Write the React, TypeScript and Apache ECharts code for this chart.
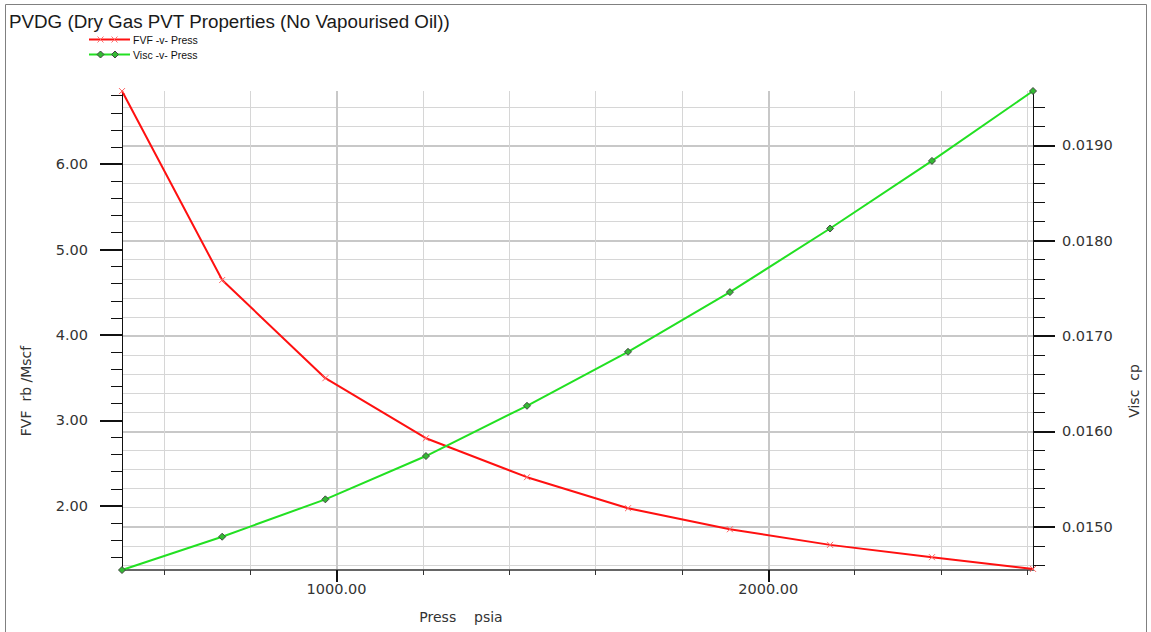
import React, { useEffect, useRef } from "react";
import * as echarts from "echarts";

// PVDG table: pressure (psia), gas FVF (rb/Mscf), gas viscosity (cp)
const pressures = [503, 735, 974, 1207, 1441, 1675, 1911, 2143, 2379, 2613];
const fvf = [6.854, 4.643, 3.494, 2.792, 2.336, 1.973, 1.727, 1.544, 1.4, 1.263];
const visc = [0.014546, 0.014895, 0.015287, 0.015741, 0.016268, 0.016834, 0.01746, 0.018127, 0.018836, 0.019569];

// Axis ranges
const fvfMin = 1.25;
const fvfMax = 6.855;

// Tick positions
const xMajorTicks = [1000, 2000];
const xMinorTicks = [600, 800, 1200, 1400, 1600, 1800, 2200, 2400, 2600];
const fvfMajorTicks = [2, 3, 4, 5, 6];
const fvfMinorTicks = [
  1.4, 1.6, 1.8, 2.2, 2.4, 2.6, 2.8, 3.2, 3.4, 3.6, 3.8, 4.2, 4.4, 4.6, 4.8,
  5.2, 5.4, 5.6, 5.8, 6.2, 6.4, 6.6, 6.8,
];
const viscMajorTicks = [0.015, 0.016, 0.017, 0.018, 0.019];
const viscMinorTicks = [
  0.0146, 0.0148, 0.0152, 0.0154, 0.0156, 0.0158, 0.0162, 0.0164, 0.0166,
  0.0168, 0.0172, 0.0174, 0.0176, 0.0178, 0.0182, 0.0184, 0.0186, 0.0188,
  0.0192, 0.0194,
];

const TITLE = "PVDG (Dry Gas PVT Properties (No Vapourised Oil))";
const FVF_NAME = "FVF -v- Press";
const VISC_NAME = "Visc -v- Press";

const LABEL_FONT = "DejaVu Sans";
const TEXT_FONT = "Liberation Sans";
const RED = "#ff1010";
const GREEN = "#22e022";
const CROSS = "path://M0,0L10,10M10,0L0,10";

export default function App() {
  const ref = useRef<HTMLDivElement>(null);

  useEffect(() => {
    if (!ref.current) return;
    const chart = echarts.init(ref.current, undefined, { renderer: "svg" });

    const xMin = pressures[0];
    const xMax = pressures[pressures.length - 1];
    const vMin = Math.min(...visc);
    const vMax = Math.max(...visc);

    const labelStyle = { color: "#333", fontFamily: LABEL_FONT, fontSize: 14.5 };

    const option: any = {
      animation: false,
      backgroundColor: "#ffffff",
      grid: { left: 122, top: 91, right: 118, bottom: 62, containLabel: false, outerBoundsMode: "none" },
      xAxis: [
        {
          type: "value",
          position: "bottom",
          min: xMin,
          max: xMax,
          axisLine: { show: true, lineStyle: { color: "#666", width: 2 } },
          axisTick: { show: true, customValues: xMinorTicks, length: 5, lineStyle: { color: "#333", width: 1 } },
          axisLabel: { show: false },
          splitLine: { show: true, lineStyle: { color: "#d6d6d6", width: 1 } },
        },
        {
          type: "value",
          position: "bottom",
          min: xMin,
          max: xMax,
          axisLine: { show: false },
          axisTick: { show: true, customValues: xMajorTicks, length: 12, lineStyle: { color: "#111", width: 2 } },
          axisLabel: {
            show: true,
            customValues: xMajorTicks,
            margin: 11,
            formatter: (v: number) => v.toFixed(2),
            ...labelStyle,
          },
          splitLine: { show: true, lineStyle: { color: "#c8c8c8", width: 2 } },
        },
      ],
      yAxis: [
        {
          type: "value",
          position: "left",
          min: fvfMin,
          max: fvfMax,
          axisLine: { show: true, lineStyle: { color: "#111", width: 1 } },
          axisTick: { show: true, customValues: fvfMinorTicks, length: 11, lineStyle: { color: "#111", width: 1 } },
          axisLabel: { show: false },
          splitLine: { show: false },
        },
        {
          type: "value",
          position: "left",
          min: fvfMin,
          max: fvfMax,
          axisLine: { show: false },
          axisTick: { show: true, customValues: fvfMajorTicks, length: 22, lineStyle: { color: "#111", width: 2 } },
          axisLabel: {
            show: true,
            customValues: fvfMajorTicks,
            margin: 34,
            formatter: (v: number) => v.toFixed(2),
            ...labelStyle,
          },
          splitLine: { show: false },
        },
        {
          type: "value",
          position: "right",
          min: vMin,
          max: vMax,
          axisLine: { show: true, lineStyle: { color: "#111", width: 1 } },
          axisTick: { show: true, customValues: viscMinorTicks, length: 12, lineStyle: { color: "#111", width: 1 } },
          axisLabel: { show: false },
          splitLine: { show: true, lineStyle: { color: "#d6d6d6", width: 1 } },
        },
        {
          type: "value",
          position: "right",
          min: vMin,
          max: vMax,
          axisLine: { show: false },
          axisTick: { show: true, customValues: viscMajorTicks, length: 22, lineStyle: { color: "#111", width: 2 } },
          axisLabel: {
            show: true,
            customValues: viscMajorTicks,
            margin: 29,
            formatter: (v: number) => v.toFixed(4),
            ...labelStyle,
          },
          splitLine: { show: true, lineStyle: { color: "#c8c8c8", width: 2 } },
        },
      ],
      series: [
        {
          name: FVF_NAME,
          type: "line",
          xAxisIndex: 0,
          yAxisIndex: 0,
          data: pressures.map((p, i) => [p, fvf[i]]),
          clip: false,
          z: 3,
          lineStyle: { color: RED, width: 2 },
          symbol: CROSS,
          symbolSize: 6,
          itemStyle: { color: "rgba(0,0,0,0)", borderColor: "#ff6060", borderWidth: 1 },
        },
        {
          name: VISC_NAME,
          type: "line",
          xAxisIndex: 0,
          yAxisIndex: 2,
          data: pressures.map((p, i) => [p, visc[i]]),
          clip: false,
          z: 4,
          lineStyle: { color: GREEN, width: 2 },
          symbol: "diamond",
          symbolSize: 7,
          itemStyle: { color: "#33bb33", borderColor: "#444", borderWidth: 1 },
        },
      ],
      graphic: [
        {
          type: "rect",
          shape: { x: 5.5, y: 4.5, width: 1141, height: 660 },
          style: { fill: "none", stroke: "#808080", lineWidth: 1 },
          silent: true,
        },
        {
          type: "text",
          x: 9,
          y: 21,
          style: {
            text: TITLE,
            fill: "#1a1a1a",
            font: `18.8px "${TEXT_FONT}"`,
            textAlign: "left",
            textVerticalAlign: "middle",
            align: "left",
            verticalAlign: "middle",
          },
        },
        // legend: FVF
        { type: "line", shape: { x1: 89, y1: 39.5, x2: 130, y2: 39.5 }, style: { stroke: RED, lineWidth: 2 } },
        { type: "line", shape: { x1: 97.5, y1: 36.5, x2: 103.5, y2: 42.5 }, style: { stroke: "#ff7070", lineWidth: 1 } },
        { type: "line", shape: { x1: 103.5, y1: 36.5, x2: 97.5, y2: 42.5 }, style: { stroke: "#ff7070", lineWidth: 1 } },
        { type: "line", shape: { x1: 111.5, y1: 36.5, x2: 117.5, y2: 42.5 }, style: { stroke: "#ff7070", lineWidth: 1 } },
        { type: "line", shape: { x1: 117.5, y1: 36.5, x2: 111.5, y2: 42.5 }, style: { stroke: "#ff7070", lineWidth: 1 } },
        {
          type: "text",
          x: 133,
          y: 40,
          style: {
            text: FVF_NAME,
            fill: "#111",
            font: `10.5px "${TEXT_FONT}"`,
            textAlign: "left",
            textVerticalAlign: "middle",
            align: "left",
            verticalAlign: "middle",
          },
        },
        // legend: Visc
        { type: "line", shape: { x1: 89, y1: 54.5, x2: 130, y2: 54.5 }, style: { stroke: GREEN, lineWidth: 2 } },
        {
          type: "polygon",
          shape: { points: [[100.5, 51], [104, 54.5], [100.5, 58], [97, 54.5]] },
          style: { fill: "#33bb33", stroke: "#444", lineWidth: 1 },
        },
        {
          type: "polygon",
          shape: { points: [[115, 51], [118.5, 54.5], [115, 58], [111.5, 54.5]] },
          style: { fill: "#33bb33", stroke: "#444", lineWidth: 1 },
        },
        {
          type: "text",
          x: 133,
          y: 55,
          style: {
            text: VISC_NAME,
            fill: "#111",
            font: `10.5px "${TEXT_FONT}"`,
            textAlign: "left",
            textVerticalAlign: "middle",
            align: "left",
            verticalAlign: "middle",
          },
        },
        // axis titles
        {
          type: "text",
          x: 26,
          y: 391,
          rotation: Math.PI / 2,
          style: {
            text: "FVF  rb /Mscf",
            fill: "#333",
            font: `14px "${LABEL_FONT}"`,
            textAlign: "center",
            textVerticalAlign: "middle",
            align: "center",
            verticalAlign: "middle",
          },
        },
        {
          type: "text",
          x: 1134,
          y: 391,
          rotation: Math.PI / 2,
          style: {
            text: "Visc  cp",
            fill: "#333",
            font: `14px "${LABEL_FONT}"`,
            textAlign: "center",
            textVerticalAlign: "middle",
            align: "center",
            verticalAlign: "middle",
          },
        },
        {
          type: "text",
          x: 461,
          y: 617,
          style: {
            text: "Press    psia",
            fill: "#333",
            font: `14px "${LABEL_FONT}"`,
            textAlign: "center",
            textVerticalAlign: "middle",
            align: "center",
            verticalAlign: "middle",
          },
        },
      ],
    };

    chart.setOption(option);
    return () => chart.dispose();
  }, []);

  return (
    <div
      ref={ref}
      style={{ position: "fixed", left: 0, top: 0, width: 1151, height: 632 }}
    />
  );
}
